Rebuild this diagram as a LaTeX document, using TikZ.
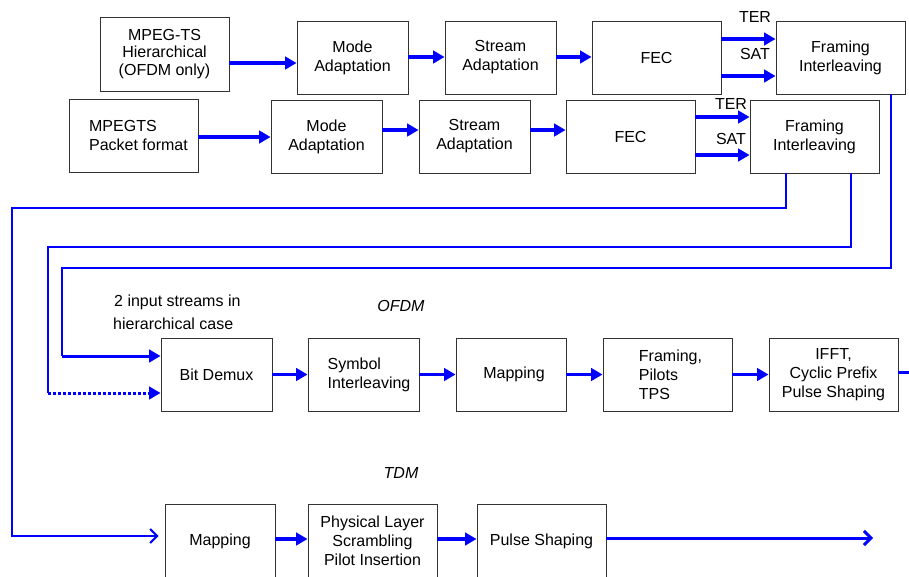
\documentclass[tikz,border=0pt]{standalone}
\usepackage{fontspec}
\setmainfont{Liberation Sans}
\usetikzlibrary{arrows.meta}
\begin{document}
\begin{tikzpicture}[x=1pt,y=-1pt,
  box/.style={draw=black!80, line width=0.9pt, rectangle, inner sep=0pt, font=\fontsize{16}{19}\selectfont, align=center},
  wbox/.style={box, minimum width=129pt, minimum height=73pt},
  nbox/.style={box, minimum width=111pt, minimum height=73pt},
  lbl/.style={font=\fontsize{16}{19}\selectfont, inner sep=0pt},
  arr/.style={draw=blue, line width=3.8pt, -{Triangle[length=11.5pt,width=12.5pt]}},
  fb/.style={draw=blue, line width=2pt},
  barb/.style={draw=blue, -{Straight Barb[length=7pt,width=14pt]}},
  dotarr/.style={draw=blue, line width=3pt, dash pattern=on 3pt off 2pt, -{Triangle[length=11.5pt,width=12.5pt]}}
]
\useasboundingbox (0,0) rectangle (909,576);

% first row
\node[box, minimum width=129pt, minimum height=74pt, font=\fontsize{16}{17.5}\selectfont] (hier) at (164.5,54) {MPEG-TS\\Hierarchical\\(OFDM only)};
\node[nbox] (modeA) at (352.5,57.5) {Mode\\Adaptation};
\node[nbox] (streamA) at (500.5,57.5) {Stream\\Adaptation};
\node[wbox] (fecA) at (656.5,57.5) {FEC};
\node[wbox] (fiA) at (840.5,57.5) {Framing\\Interleaving};

% second row
\node[wbox, align=left] (pkt) at (133.5,135.5) {\hspace*{10pt}MPEGTS\\\hspace*{10pt}Packet format};
\node[nbox] (modeB) at (326.5,136.5) {Mode\\Adaptation};
\node[nbox] (streamB) at (474.5,136.5) {Stream\\Adaptation};
\node[wbox] (fecB) at (630.5,136.5) {FEC};
\node[wbox] (fiB) at (814.5,136.5) {Framing\\Interleaving};

% OFDM row
\node[nbox] (demux) at (216.5,374.5) {Bit Demux};
\node[nbox, align=left] (symb) at (363.5,374.5) {\hspace*{11pt}Symbol\\\hspace*{11pt}Interleaving};
\node[nbox, minimum width=110pt] (mapO) at (511,374.5) {\hspace*{6pt}Mapping};
\node[wbox, align=left] (fpt) at (667.5,374.5) {\hspace*{6pt}Framing,\\\hspace*{6pt}Pilots\\\hspace*{6pt}TPS};
\node[wbox] (ifft) at (833.5,374.5) {IFFT,\\Cyclic Prefix\\Pulse Shaping};

% TDM row
\node[box, minimum width=110pt, minimum height=74pt] (mapT) at (220,541) {Mapping};
\node[box, minimum width=129pt, minimum height=74pt] (phys) at (372.5,541) {Physical Layer\\Scrambling\\Pilot Insertion};
\node[box, minimum width=129pt, minimum height=74pt] (pulse) at (541.5,541) {Pulse Shaping};

% labels
\node[lbl] (ter1) at (755,17) {TER};
\node[lbl] (sat1) at (755,54) {SAT};
\node[lbl] (ter2) at (731,104) {TER};
\node[lbl] (sat2) at (731,139) {SAT};
\node[lbl, anchor=west] (note1) at (114,302) {2 input streams in};
\node[lbl, anchor=west] (note2) at (113,324) {hierarchical case};
\node[lbl, font=\fontsize{16}{19}\selectfont\itshape] (ofdm) at (401,306) {OFDM};
\node[lbl, font=\fontsize{16}{19}\selectfont\itshape] (tdm) at (401,473) {TDM};

% first row arrows
\draw[arr] (hier.east |- 0,63) -- (modeA.west |- 0,63);
\draw[arr] (modeA.east |- 0,57) -- (streamA.west |- 0,57);
\draw[arr] (streamA.east |- 0,57) -- (fecA.west |- 0,57);
\draw[arr] (fecA.east |- 0,39) -- (fiA.west |- 0,39);
\draw[arr] (fecA.east |- 0,76) -- (fiA.west |- 0,76);

% second row arrows
\draw[arr] (pkt.east |- 0,137) -- (modeB.west |- 0,137);
\draw[arr] (modeB.east |- 0,130) -- (streamB.west |- 0,130);
\draw[arr] (streamB.east |- 0,130) -- (fecB.west |- 0,130);
\draw[arr] (fecB.east |- 0,117) -- (fiB.west |- 0,117);
\draw[arr] (fecB.east |- 0,155) -- (fiB.west |- 0,155);

% feedback lines
\draw[fb, barb, shorten >=6pt] (fiB.south -| 786,0) |- (12,208) |- (mapT.west |- 0,536);
\coordinate (c2) at (48,393);
\draw[fb] (fiB.south -| 851,0) |- (48,247) -- (c2);
\draw[dotarr] (c2) -- (demux.west |- c2);
\coordinate (c3) at (62,356);
\draw[fb] (fiA.south -| 891,0) |- (62,268) -- (c3);
\draw[arr, line width=3pt] (c3) -- (demux.west |- c3);

% OFDM arrows
\draw[arr] (demux) -- (symb);
\draw[arr] (symb) -- (mapO);
\draw[arr] (mapO) -- (fpt);
\draw[arr] (fpt) -- (ifft);
\coordinate (ofdmout) at (909,372);
\draw[draw=blue, line width=3pt] (ifft.east |- ofdmout) -- (ofdmout);

% TDM arrows
\draw[arr] (mapT.east |- 0,539) -- (phys.west |- 0,539);
\draw[arr] (phys.east |- 0,539) -- (pulse.west |- 0,539);
\coordinate (tdmout) at (873,538);
\draw[barb, line width=3pt] (pulse.east |- tdmout) -- (tdmout);
\end{tikzpicture}
\end{document}
